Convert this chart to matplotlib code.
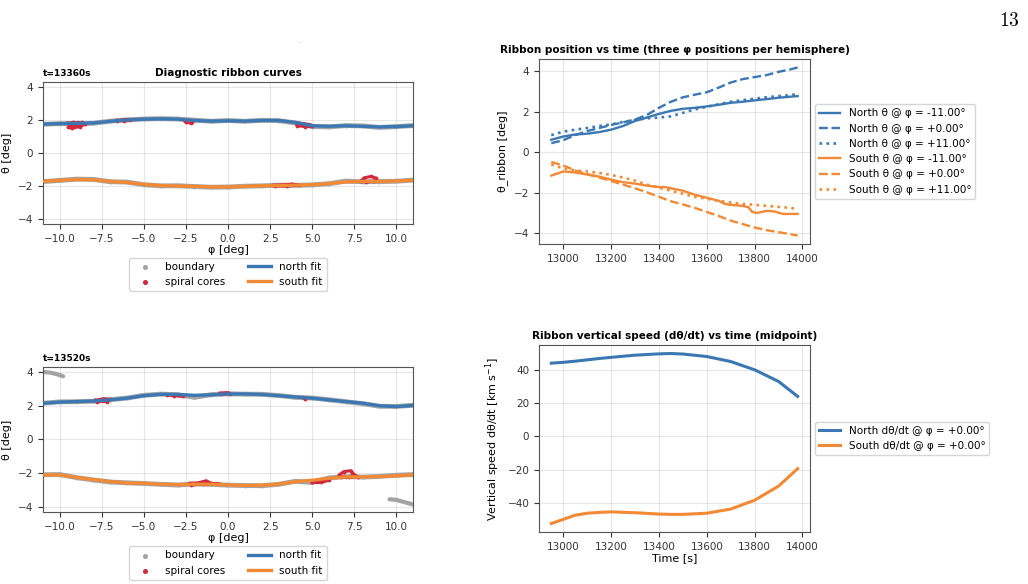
import numpy as np
import matplotlib
matplotlib.use("Agg")
import matplotlib.pyplot as plt

# ---------------- data ----------------
phi = [-11, -10, -9, -8, -7, -6, -5, -4, -3, -2, -1, 0, 1, 2, 3, 4, 5, 6, 7, 8, 9, 10, 11]

# snapshot t=13360s
fitN_1 = [1.75, 1.78, 1.80, 1.82, 1.92, 2.00, 2.05, 2.07, 2.05, 1.97, 1.93, 1.95, 1.93, 1.97, 1.97, 1.85, 1.65, 1.62, 1.65, 1.62, 1.58, 1.60, 1.65]
fitS_1 = [-1.72, -1.65, -1.60, -1.62, -1.72, -1.78, -1.90, -1.97, -2.00, -2.02, -2.05, -2.05, -2.02, -1.98, -1.97, -1.95, -1.92, -1.85, -1.75, -1.72, -1.72, -1.70, -1.65]
bndN_1 = [1.74, 1.78, 1.76, 1.80, 1.93, 2.01, 2.06, 2.08, 2.06, 1.99, 1.92, 1.97, 1.92, 1.98, 1.96, 1.82, 1.60, 1.58, 1.66, 1.64, 1.55, 1.60, 1.66]
bndS_1 = [-1.73, -1.66, -1.58, -1.60, -1.74, -1.76, -1.92, -1.99, -1.98, -2.03, -2.07, -2.06, -2.01, -1.99, -1.95, -1.96, -1.93, -1.86, -1.70, -1.74, -1.73, -1.71, -1.64]
core_phi_1 = [-9.6, -9.2, -8.7, -8.5, -8.8, -9.3, -9.5, -9.3, -8.9, np.nan,
              -6.6, -6.2, -5.8, -6.2, -6.6, np.nan,
              -2.6, -2.5, -2.2, -2.15, np.nan,
              4.1, 4.5, 4.9, 5.0, 4.6, 4.1, 4.1, np.nan,
              2.7, 3.3, 3.8, 4.2, 3.5, 2.8, np.nan,
              7.9, 8.1, 8.5, 8.8, 8.7, 8.2, 7.9]
core_th_1 = [1.80, 1.85, 1.85, 1.75, 1.60, 1.50, 1.55, 1.70, 1.75, np.nan,
             1.95, 2.02, 2.00, 1.95, 1.97, np.nan,
             2.00, 1.85, 1.82, 1.90, np.nan,
             1.82, 1.78, 1.72, 1.62, 1.60, 1.65, 1.75, np.nan,
             -1.95, -1.92, -1.88, -1.95, -2.00, -2.00, np.nan,
             -1.70, -1.50, -1.42, -1.52, -1.72, -1.75, -1.70]

# snapshot t=13520s
fitN_2 = [2.15, 2.22, 2.25, 2.28, 2.35, 2.45, 2.60, 2.68, 2.67, 2.62, 2.65, 2.70, 2.70, 2.67, 2.60, 2.52, 2.45, 2.35, 2.25, 2.15, 2.00, 1.95, 2.02]
fitS_2 = [-2.10, -2.10, -2.25, -2.38, -2.50, -2.58, -2.60, -2.65, -2.68, -2.65, -2.65, -2.70, -2.72, -2.72, -2.65, -2.50, -2.42, -2.30, -2.22, -2.22, -2.20, -2.15, -2.10]
bndN_2 = [2.15, 2.23, 2.24, 2.27, 2.36, 2.46, 2.62, 2.69, 2.66, 2.50, 2.66, 2.71, 2.69, 2.68, 2.61, 2.50, 2.46, 2.36, 2.24, 2.13, 1.97, 1.96, 2.03]
bndS_2 = [-2.09, -2.08, -2.26, -2.40, -2.52, -2.57, -2.61, -2.66, -2.70, -2.64, -2.66, -2.71, -2.73, -2.74, -2.66, -2.48, -2.55, -2.28, -2.20, -2.23, -2.19, -2.12, -2.08]
stray_phi_2 = [-11.0, -10.6, -10.2, -9.8, np.nan, 9.6, 10.0, 10.5, 11.0]
stray_th_2 = [4.00, 3.97, 3.88, 3.75, np.nan, -3.55, -3.58, -3.72, -3.85]
core_phi_2 = [-7.9, -7.4, -7.0, -7.2, -7.8, -7.9, np.nan,
              -3.6, -3.2, -2.7, -3.3, np.nan,
              -0.5, 0.0, 0.1, -0.4, np.nan,
              4.5, 4.6, np.nan,
              -2.3, -1.8, -1.3, -1.0, -0.5, -1.5, -2.2, np.nan,
              5.0, 5.6, 6.0, 5.5, 5.0, np.nan,
              6.6, 6.9, 7.3, 7.4, 7.7, 7.2, 6.7]
core_th_2 = [2.32, 2.42, 2.38, 2.25, 2.25, 2.32, np.nan,
             2.65, 2.60, 2.58, 2.63, np.nan,
             2.75, 2.78, 2.72, 2.70, np.nan,
             2.45, 2.40, np.nan,
             -2.60, -2.58, -2.45, -2.60, -2.65, -2.65, -2.70, np.nan,
             -2.50, -2.45, -2.42, -2.55, -2.55, np.nan,
             -2.10, -1.90, -1.85, -2.00, -2.20, -2.25, -2.20]

# ribbon position vs time
t = [12950, 13000, 13050, 13100, 13150, 13200, 13250, 13300, 13350, 13400, 13450,
     13500, 13550, 13600, 13650, 13700, 13750, 13800, 13850, 13900, 13950, 13980]
north_m11 = [0.62, 0.78, 0.88, 0.92, 1.00, 1.12, 1.30, 1.55, 1.72, 1.90, 2.05, 2.15, 2.20, 2.27, 2.35, 2.45, 2.50, 2.57, 2.63, 2.70, 2.75, 2.78]
north_0 = [0.45, 0.60, 0.85, 1.05, 1.20, 1.35, 1.48, 1.62, 1.85, 2.20, 2.50, 2.72, 2.85, 2.97, 3.20, 3.45, 3.62, 3.72, 3.82, 3.98, 4.10, 4.20]
north_p11 = [0.85, 1.02, 1.12, 1.20, 1.30, 1.38, 1.50, 1.60, 1.68, 1.72, 1.78, 1.95, 2.12, 2.25, 2.38, 2.50, 2.58, 2.65, 2.72, 2.78, 2.83, 2.88]
south_0 = [-0.48, -0.65, -0.90, -1.08, -1.25, -1.42, -1.60, -1.78, -1.98, -2.20, -2.42, -2.58, -2.75, -2.95, -3.15, -3.38, -3.55, -3.72, -3.85, -3.95, -4.05, -4.12]
south_p11 = [-0.60, -0.80, -0.90, -0.95, -1.02, -1.12, -1.25, -1.40, -1.60, -1.75, -1.90, -2.05, -2.20, -2.30, -2.40, -2.48, -2.55, -2.60, -2.65, -2.70, -2.75, -2.82]
t_s = [12950, 12975, 13000, 13025, 13050, 13100, 13150, 13200, 13250, 13300, 13350, 13400, 13425,
       13450, 13500, 13550, 13600, 13650, 13675, 13700, 13750, 13775, 13790, 13810, 13830, 13850,
       13880, 13920, 13950, 13980]
south_m11 = [-1.15, -1.05, -0.95, -0.97, -1.00, -1.10, -1.20, -1.35, -1.48, -1.55, -1.65, -1.72, -1.72,
             -1.78, -1.90, -2.10, -2.25, -2.40, -2.55, -2.60, -2.65, -2.72, -2.95, -3.00, -2.95, -2.90,
             -2.92, -3.05, -3.05, -3.05]

# vertical speed at midpoint
t_v = [12950, 13000, 13050, 13100, 13150, 13200, 13300, 13400, 13450, 13500, 13600, 13700, 13800, 13900, 13980]
vN = [44.0, 44.5, 45.2, 46.0, 46.8, 47.5, 48.8, 49.6, 49.8, 49.5, 48.0, 45.0, 40.0, 33.0, 24.0]
vS = [-52.5, -50.0, -47.5, -46.3, -45.8, -45.5, -46.0, -46.8, -47.0, -47.0, -46.3, -43.8, -38.5, -30.0, -19.5]

blue = '#3b78b3'
orange = '#f28a35'
red = '#d2293d'
gray = '#a3a3a3'

plt.rcParams['font.size'] = 7.5
plt.rcParams['xtick.labelsize'] = 7.5
plt.rcParams['ytick.labelsize'] = 7.5
plt.rcParams['axes.edgecolor'] = '#555555'
plt.rcParams['xtick.color'] = '#333333'
plt.rcParams['ytick.color'] = '#333333'

fig = plt.figure(figsize=(10.28, 5.84), dpi=100)

def snapshot(ax, fitN, fitS, bndN, bndS, cphi, cth, tlabel, title=None, stray=None):
    ax.plot(phi, bndN, '-', color=gray, lw=3.5, solid_capstyle='round')
    ax.plot(phi, bndS, '-', color=gray, lw=3.5, solid_capstyle='round')
    ax.scatter(phi + phi, bndN + bndS, s=3, color=gray, label='boundary', zorder=2)
    if stray is not None:
        ax.plot(stray[0], stray[1], '-', color=gray, lw=3, solid_capstyle='round')
    ax.plot(cphi, cth, '-', color=red, lw=2.2, solid_capstyle='round', zorder=3)
    ax.scatter(cphi, cth, s=3, color=red, label='spiral cores', zorder=3)
    ax.plot(phi, fitN, color=blue, lw=2.4, label='north fit', zorder=4)
    ax.plot(phi, fitS, color=orange, lw=2.4, label='south fit', zorder=4)
    ax.set_xlim(-11, 11)
    ax.set_ylim(-4.3, 4.3)
    ax.set_xticks([-10, -7.5, -5, -2.5, 0, 2.5, 5, 7.5, 10])
    ax.set_yticks([-4, -2, 0, 2, 4])
    ax.grid(True, alpha=0.3)
    ax.set_xlabel('φ [deg]', fontsize=8, labelpad=1)
    ax.set_ylabel('θ [deg]', fontsize=8)
    ax.set_title(tlabel, loc='left', fontsize=6.5, fontweight='bold', pad=4)
    if title:
        ax.set_title(title, fontsize=7.5, fontweight='bold', pad=4)
    ax.legend(loc='upper center', bbox_to_anchor=(0.5, -0.2), ncol=2, fontsize=7.5,
              markerscale=1.5, columnspacing=2.2, handlelength=2.2)

ax1 = fig.add_axes([0.0418, 0.6164, 0.360, 0.2432])
snapshot(ax1, fitN_1, fitS_1, bndN_1, bndS_1, core_phi_1, core_th_1, 't=13360s',
         title='Diagnostic ribbon curves')

ax3 = fig.add_axes([0.0418, 0.1233, 0.360, 0.2483])
snapshot(ax3, fitN_2, fitS_2, bndN_2, bndS_2, core_phi_2, core_th_2, 't=13520s',
         stray=(stray_phi_2, stray_th_2))

ax2 = fig.add_axes([0.5243, 0.5822, 0.2636, 0.3168])
ax2.plot(t, north_m11, '-', color=blue, lw=1.7, label='North θ @ φ = -11.00°')
ax2.plot(t, north_0, '--', color=blue, lw=1.7, label='North θ @ φ = +0.00°')
ax2.plot(t, north_p11, ':', color=blue, lw=1.9, label='North θ @ φ = +11.00°')
ax2.plot(t_s, south_m11, '-', color=orange, lw=1.7, label='South θ @ φ = -11.00°')
ax2.plot(t, south_0, '--', color=orange, lw=1.7, label='South θ @ φ = +0.00°')
ax2.plot(t, south_p11, ':', color=orange, lw=1.9, label='South θ @ φ = +11.00°')
ax2.set_xticks([13000, 13200, 13400, 13600, 13800, 14000])
ax2.set_yticks([-4, -2, 0, 2, 4])
ax2.grid(True, alpha=0.3)
ax2.set_ylabel('θ_ribbon [deg]', fontsize=8)
ax2.set_title('Ribbon position vs time (three φ positions per hemisphere)', fontsize=7.5,
              fontweight='bold', pad=4)
ax2.legend(loc='center left', bbox_to_anchor=(1.0, 0.5), fontsize=7.5, handlelength=2.0)

ax4 = fig.add_axes([0.5243, 0.0890, 0.2636, 0.3202])
ax4.plot(t_v, vN, color=blue, lw=2.2, label='North dθ/dt @ φ = +0.00°')
ax4.plot(t_v, vS, color=orange, lw=2.2, label='South dθ/dt @ φ = +0.00°')
ax4.set_xticks([13000, 13200, 13400, 13600, 13800, 14000])
ax4.set_yticks([-40, -20, 0, 20, 40])
ax4.grid(True, alpha=0.3)
ax4.set_xlabel('Time [s]', fontsize=8, labelpad=1)
ax4.set_ylabel('Vertical speed dθ/dt [km s$^{-1}$]', fontsize=8)
ax4.set_title('Ribbon vertical speed (dθ/dt) vs time (midpoint)', fontsize=7.5,
              fontweight='bold', pad=4)
ax4.legend(loc='center left', bbox_to_anchor=(1.0, 0.5), fontsize=7.5, handlelength=2.0)

# page number and a faint mark from the page
fig.text(0.992, 0.965, r'$13$', fontsize=14, math_fontfamily='cm', ha='right', va='center')
fig.text(0.292, 0.928, '-', fontsize=5, color='#bbbbbb', ha='center', va='center')

fig.savefig('out.png', dpi=100)
